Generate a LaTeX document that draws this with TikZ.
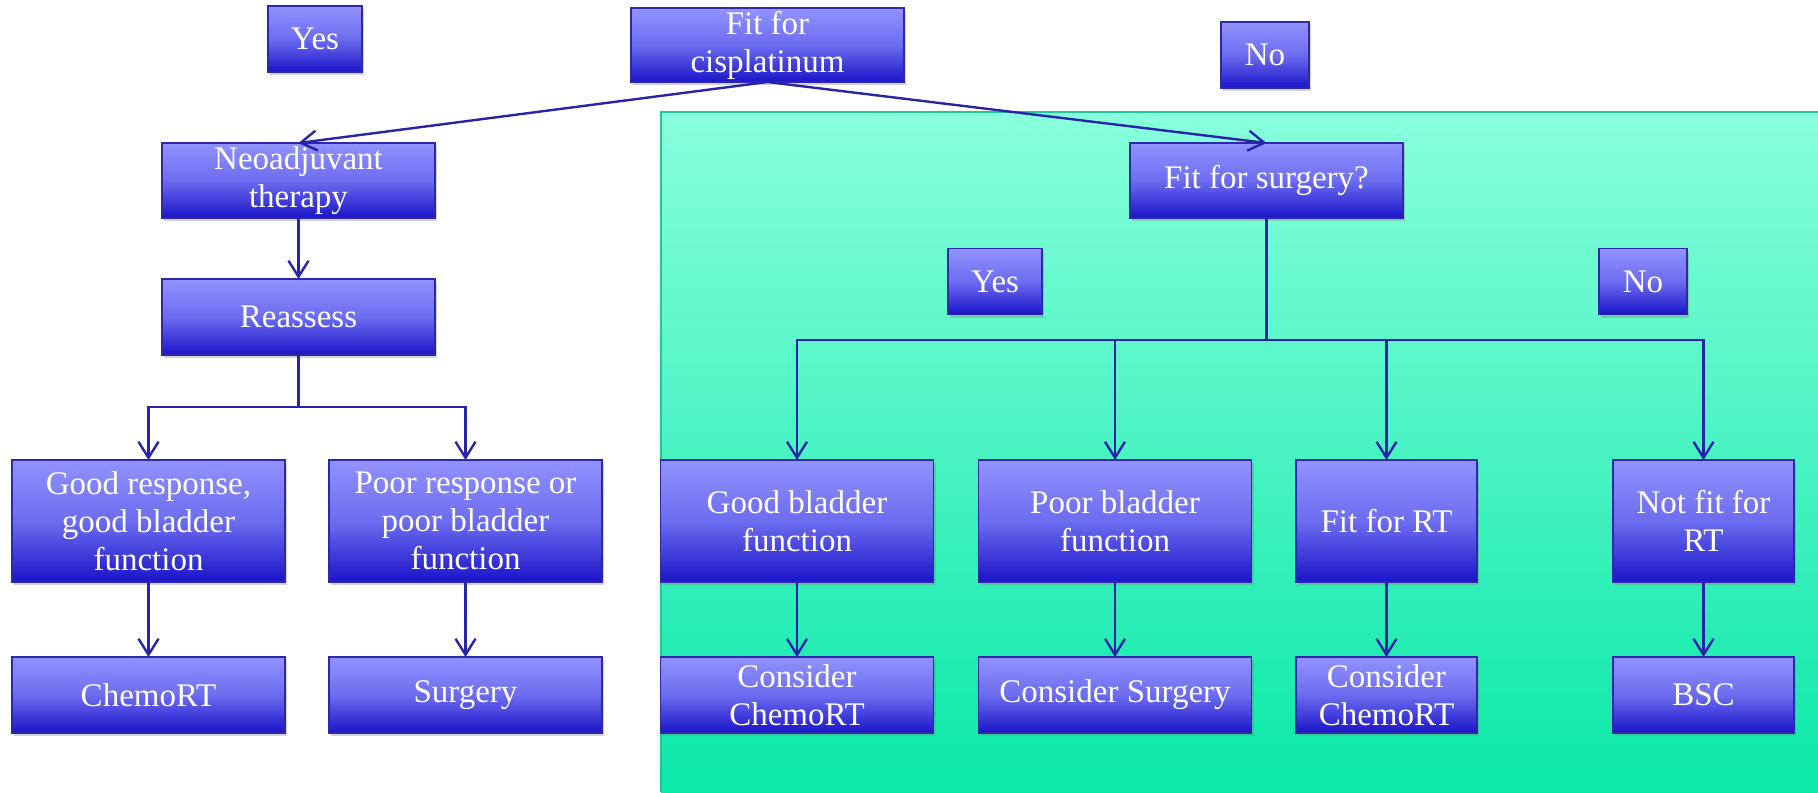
\documentclass[tikz,border=0pt]{standalone}
\usepackage{fontspec}
\setmainfont{Liberation Serif}
\usetikzlibrary{arrows.meta,shadows}

\definecolor{boxtop}{RGB}{146,146,255}
\definecolor{boxmid}{RGB}{108,108,240}
\definecolor{boxbot}{RGB}{26,20,200}
\definecolor{boxline}{RGB}{45,40,170}
\definecolor{linkblue}{RGB}{40,36,170}
\definecolor{paneltop}{RGB}{136,255,220}
\definecolor{panelbot}{RGB}{10,232,168}
\definecolor{panelline}{RGB}{30,200,150}

\begin{document}
\begin{tikzpicture}[x=0.5pt,y=-0.5pt,
  box/.style={draw=boxline, line width=0.8pt,
    top color=boxtop, bottom color=boxbot, middle color=boxmid,
    inner sep=0pt, outer sep=0pt, align=center, text=white,
    font=\fontsize{16.5}{19}\selectfont,
    drop shadow={shadow xshift=1.2pt, shadow yshift=-1.5pt, opacity=0.35}},
  widebox/.style={box, minimum width=136.5pt},
  rtbox/.style={box, minimum width=90.5pt},
  tallrow/.style={minimum height=61pt},
  lowrow/.style={minimum height=38pt},
  answer/.style={box, minimum height=33pt},
  link/.style={draw=linkblue, line width=1.2pt},
  trunk/.style={draw=linkblue, line width=1.6pt},
  arr/.style={link, -{Straight Barb[length=8pt,width=10pt]}}
]
\useasboundingbox (0,0) rectangle (1818,792);

% shaded panel for the "not fit for cisplatinum" branch
\shade[top color=paneltop, bottom color=panelbot] (661,112) rectangle (1818,792);
\draw[panelline, line width=0.8pt] (661,792) -- (661,112) -- (1818,112);

% top level
\node[box, minimum width=136.5pt, minimum height=37pt] (cis) at (767.5,45) {Fit for\\cisplatinum};
\node[answer, minimum width=47pt] (yes1) at (315,39) {Yes};
\node[answer, minimum width=44pt] (no1) at (1265,55) {No};

% second level
\node[widebox, minimum height=37.5pt] (neo) at (298.5,180.5) {Neoadjuvant\\therapy};
\node[widebox, minimum height=37.5pt] (fs) at (1266.5,180.5) {Fit for surgery?};

% left branch
\node[widebox, minimum height=38pt] (reas) at (298.5,317) {Reassess};
\node[widebox, tallrow] (goodresp) at (148.5,521) {Good response,\\good bladder\\function};
\node[widebox, tallrow] (poorresp) at (465.5,521) {Poor response or\\poor bladder\\function};
\node[widebox, lowrow] (chemo1) at (148.5,695) {ChemoRT};
\node[widebox, lowrow] (surg1) at (465.5,695) {Surgery};

% right branch
\node[answer, minimum width=47pt] (yes2) at (995,281.5) {Yes};
\node[answer, minimum width=44pt] (no2) at (1643,281.5) {No};
\node[widebox, tallrow] (goodbl) at (797,521) {Good bladder\\function};
\node[widebox, tallrow] (poorbl) at (1115,521) {Poor bladder\\function};
\node[rtbox, tallrow] (fitrt) at (1386.5,521) {Fit for RT};
\node[rtbox, tallrow] (notrt) at (1703.5,521) {Not fit for\\RT};
\node[widebox, lowrow] (chemo2) at (797,695) {Consider\\ChemoRT};
\node[widebox, lowrow] (surg2) at (1115,695) {Consider Surgery};
\node[rtbox, lowrow] (chemo3) at (1386.5,695) {Consider\\ChemoRT};
\node[rtbox, lowrow] (bsc) at (1703.5,695) {BSC};

% junctions
\coordinate (ja) at (298.5,407);
\coordinate (jb) at (1266.5,340);

% connectors
\draw[arr] (cis.south) -- (neo.north);
\draw[arr] (cis.south) -- (fs.north);
\draw[arr] (neo.south) -- (reas.north);

\draw[link] (reas.south) -- (ja);
\draw[arr] (ja) -| (goodresp.north);
\draw[arr] (ja) -| (poorresp.north);
\draw[arr] (goodresp.south) -- (chemo1.north);
\draw[arr] (poorresp.south) -- (surg1.north);

\draw[trunk] (fs.south) -- (jb);
\draw[arr] (jb) -| (goodbl.north);
\draw[arr] (jb) -| (poorbl.north);
\draw[arr] (jb) -| (fitrt.north);
\draw[arr] (jb) -| (notrt.north);
\draw[arr] (goodbl.south) -- (chemo2.north);
\draw[arr] (poorbl.south) -- (surg2.north);
\draw[arr] (fitrt.south) -- (chemo3.north);
\draw[arr] (notrt.south) -- (bsc.north);
\end{tikzpicture}
\end{document}
